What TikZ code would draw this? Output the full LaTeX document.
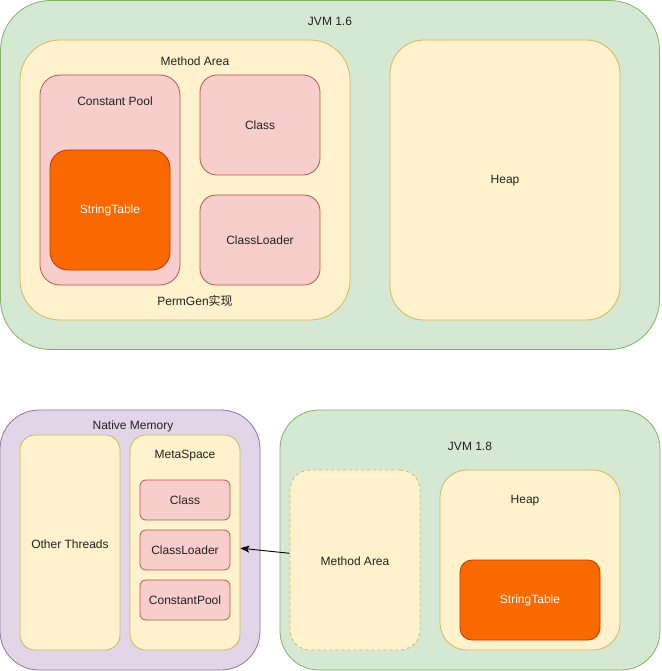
\documentclass[tikz,border=0pt]{standalone}
\usepackage{fontspec}
\setmainfont{Liberation Sans}
\newfontfamily\cjk{Noto Sans CJK SC}
\usepackage{tikz}
\usepackage{xcolor}
\usetikzlibrary{arrows.meta, positioning}

\definecolor{greenfill}{HTML}{D5E8D4}
\definecolor{greenline}{HTML}{82B366}
\definecolor{yellowfill}{HTML}{FFF2CC}
\definecolor{yellowline}{HTML}{D6B656}
\definecolor{redfill}{HTML}{F8CECC}
\definecolor{redline}{HTML}{B85450}
\definecolor{orangefill}{HTML}{FA6800}
\definecolor{orangeline}{HTML}{C73500}
\definecolor{purplefill}{HTML}{E1D5E7}
\definecolor{purpleline}{HTML}{9673A6}
\definecolor{textgray}{HTML}{222222}

\begin{document}
\begin{tikzpicture}[x=1pt, y=-1pt, font=\fontsize{12}{14}\selectfont, text=textgray,
    box/.style={rectangle, inner sep=0pt, line width=0.8pt},
    greenbox/.style={box, fill=greenfill, draw=greenline},
    yellowbox/.style={box, fill=yellowfill, draw=yellowline},
    redbox/.style={box, fill=redfill, draw=redline},
    orangebox/.style={box, fill=orangefill, draw=orangeline, text=white},
    purplebox/.style={box, fill=purplefill, draw=purpleline},
    title/.style={yshift=-1pt}]
                        \useasboundingbox (0,0) rectangle (661,671);

                        % JVM 1.6
                        \node[greenbox, minimum width=659pt, minimum height=349pt, rounded corners=50pt] (jvm16) at (330,175) {};
                        \node[title] (jvm16title) at (330,20) {JVM 1.6};
                        \node[yellowbox, minimum width=330pt, minimum height=280pt, rounded corners=40pt] (perm) at (185,180) {};
                        \node[title] (permtitle) at (195,60) {Method Area};
                        \node[title] (permfoot) at (195,300) {PermGen{\cjk 实现}};
                        \node[redbox, minimum width=140pt, minimum height=210pt, rounded corners=20pt] (pool) at (110,180) {};
                        \node[title] (pooltitle) at (115,100) {Constant Pool};
                        \node[orangebox, minimum width=120pt, minimum height=120pt, rounded corners=18pt] (table16) at (110,210) {StringTable};
                        \node[redbox, minimum width=120pt, minimum height=100pt, rounded corners=17pt] (class16) at (260,125) {Class};
                        \node[redbox, minimum width=120pt, minimum height=90pt, rounded corners=16pt] (loader16) at (260,240) {ClassLoader};
                        \node[yellowbox, minimum width=230pt, minimum height=280pt, rounded corners=34pt] (heap16) at (505,180) {};
                        \node[title] (heap16title) at (505,180) {Heap};

                        % Native Memory
                        \node[purplebox, minimum width=260pt, minimum height=260pt, rounded corners=39pt] (native) at (130,540) {};
                        \node[title] (nativetitle) at (133,425) {Native Memory};
                        \node[yellowbox, minimum width=100pt, minimum height=215pt, rounded corners=15pt] (threads) at (70,542.5) {};
                        \node[title] (threadstitle) at (70,543) {Other Threads};
                        \node[yellowbox, minimum width=110pt, minimum height=215pt, rounded corners=16pt] (meta) at (185,542.5) {};
                        \node[title] (metatitle) at (185,455) {MetaSpace};
                        \node[redbox, minimum width=90pt, minimum height=40pt, rounded corners=6pt] (class18) at (185,500) {Class};
                        \node[redbox, minimum width=90pt, minimum height=40pt, rounded corners=6pt] (loader18) at (185,550) {ClassLoader};
                        \node[redbox, minimum width=90pt, minimum height=40pt, rounded corners=6pt] (pool18) at (185,600) {ConstantPool};

                        % JVM 1.8
                        \node[greenbox, minimum width=380pt, minimum height=260pt, rounded corners=39pt] (jvm18) at (470,540) {};
                        \node[title] (jvm18title) at (470,445) {JVM 1.8};
                        \node[yellowbox, dashed, minimum width=130pt, minimum height=180pt, rounded corners=20pt] (method18) at (355,560) {};
                        \node[title] (method18title) at (355,560) {Method Area};
                        \node[yellowbox, minimum width=180pt, minimum height=180pt, rounded corners=27pt] (heap18) at (530,560) {};
                        \node[title] (heap18title) at (525,500) {Heap};
                        \node[orangebox, minimum width=140pt, minimum height=80pt, rounded corners=12pt] (table18) at (530,600) {StringTable};

                        \draw[-{Stealth[length=9pt, width=7pt, inset=2pt]}, line width=0.9pt]
                        (method18) -- (meta);
                    \end{tikzpicture}
\end{document}
